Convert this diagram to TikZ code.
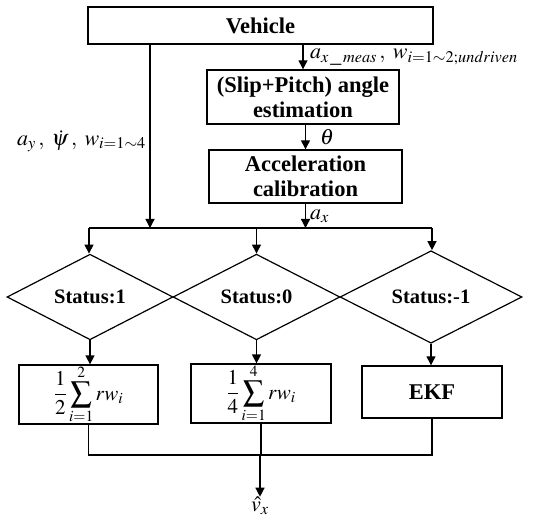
\documentclass[tikz,border=0pt]{standalone}
\usepackage{mathptmx}
\usepackage{fontspec}
\setmainfont{Liberation Serif}
\usetikzlibrary{shapes.geometric,arrows.meta}

\tikzset{
  blk/.style={draw, line width=1.4pt, inner sep=0pt, align=center,
              font=\fontsize{22.5}{25}\selectfont\bfseries},
  dec/.style={draw, line width=1.2pt, diamond, inner sep=0pt,
              font=\fontsize{20.5}{22}\selectfont\bfseries},
  wire/.style={line width=1.3pt},
  arr/.style={wire, -{Triangle[width=9pt,length=9pt]}},
  lbl/.style={inner sep=0pt, font=\fontsize{22}{24}\selectfont}
}

\begin{document}
\begin{tikzpicture}[x=1pt, y=-1pt]
\useasboundingbox (0,0) rectangle (539,518);

% processing blocks
\node[blk, minimum width=345pt, minimum height=37pt] (veh) at (260.5,25.5) {Vehicle};
\node[blk, minimum width=192pt, minimum height=54pt] (slip) at (303,97) {(Slip+Pitch) angle\\estimation};
\node[blk, minimum width=193pt, minimum height=53pt] (acc) at (305.5,176.5) {Acceleration\\calibration};

% status decisions
\node[dec, minimum width=166pt, minimum height=70pt] (d1) at (90,297) {Status:1};
\node[dec, minimum width=167pt, minimum height=70pt] (d2) at (256.5,297) {Status:0};
\node[dec, minimum width=182pt, minimum height=70pt] (d3) at (431,297) {Status:-1};

% estimators
\node[blk, minimum width=139pt, minimum height=55pt, font=\fontsize{21}{23}\selectfont] (b1) at (88.5,394.5)
  {$\displaystyle\frac{1}{2}\sum_{i=1}^{2} rw_i$};
\node[blk, minimum width=140pt, minimum height=53pt, font=\fontsize{21}{23}\selectfont] (b2) at (261,393.5)
  {$\displaystyle\frac{1}{4}\sum_{i=1}^{4} rw_i$};
\node[blk, minimum width=140pt, minimum height=52pt] (b3) at (432,392) {EKF};

% junction points
\coordinate (tap) at (150,228);
\coordinate (busL) at (89,228);
\coordinate (busR) at (432,228);
\coordinate (join) at (260,455);
\node[lbl] (vout) at (260,506) {$\hat{v}_x$};

% signal paths from the vehicle
\draw[arr] (veh.south -| tap) -- (tap);
\draw[arr] (veh.south -| slip.north) -- (slip.north);
\draw[arr] (slip.south -| acc.north) -- (acc.north);
\draw[arr] (acc.south) -- (acc.south |- busL);

% distribution bus to the decisions
\draw[wire] (busL) -- (busR);
\draw[arr] (busL) -- (busL |- d1.north);
\draw[arr] (d2.north |- busL) -- (d2.north);
\draw[arr] (busR) -- (busR |- d3.north);

% decisions to estimators
\draw[arr] (d1.south) -- (d1.south |- b1.north);
\draw[arr] (d2.south) -- (d2.south |- b2.north);
\draw[arr] (d3.south) -- (d3.south |- b3.north);

% merge of the estimator outputs
\draw[wire] (b1.south) -- (b1.south |- join) -- (b3.south |- join) -- (b3.south);
\draw[wire] (b2.south) -- (b2.south |- join);
\draw[arr] (join) -- (vout.north);

% signal labels
\node[lbl, anchor=west] (lmeas) at (310,57) {$a_{x\,\_\,meas}\,,\;w_{i=1\sim2;undriven}$};
\node[lbl, anchor=west] (ltheta) at (320,137) {$\theta$};
\node[lbl, anchor=west] (lax) at (310,216) {$a_x$};
\node[lbl, anchor=east] (lay) at (146,141) {$a_y\,,\;\dot{\psi}\,,\;w_{i=1\sim4}$};
\end{tikzpicture}
\end{document}
